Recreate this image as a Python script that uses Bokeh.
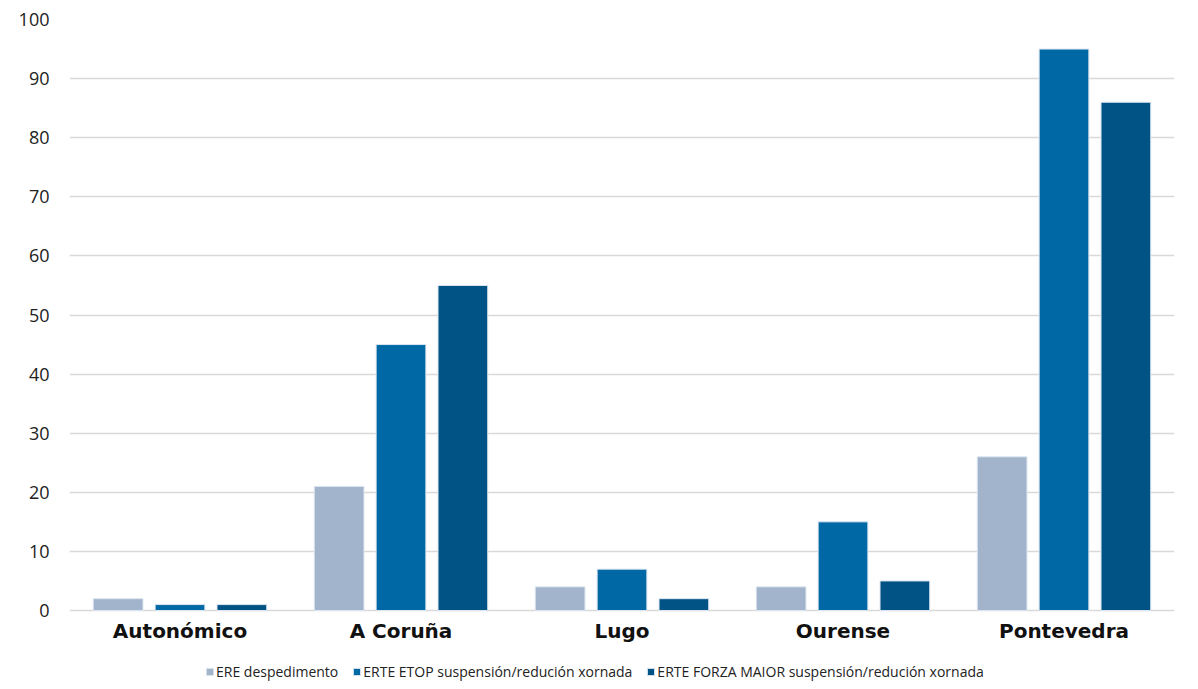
from bokeh.plotting import figure
from bokeh.models import ColumnDataSource, Range1d, FactorRange, Legend, LegendItem
from bokeh.core.properties import value
from bokeh.transform import dodge
from bokeh.embed import file_html
from bokeh.resources import INLINE

categories = ["Autonómico", "A Coruña", "Lugo", "Ourense", "Pontevedra"]
ere = [2, 21, 4, 4, 26]
etop = [1, 45, 7, 15, 95]
forza = [1, 55, 2, 5, 86]
series_names = ["ERE despedimento", "ERTE ETOP suspensión/redución xornada",
                "ERTE FORZA MAIOR suspensión/redución xornada"]
colors = ["#a2b4cb", "#0068a5", "#025385"]
y_ticks = list(range(0, 101, 10))

src = ColumnDataSource(dict(cat=categories, ere=ere, etop=etop, forza=forza))

# frame spans 19..681 px; 0..100 spans 591 px, leaving 71 px below zero
y_low = -71 / 5.91

p = figure(x_range=FactorRange(*categories), y_range=Range1d(y_low, 100),
           width=1190, height=681, output_backend="svg", x_axis_location=None,
           toolbar_location=None, min_border_left=69, min_border_top=19,
           min_border_right=16, min_border_bottom=0)

renderers = []
for key, off, col in zip(["ere", "etop", "forza"], [-0.28, 0, 0.28], colors):
    r = p.vbar(x=dodge("cat", off, range=p.x_range), top=key, width=0.225,
               source=src, fill_color=col, line_color="#dce6f0", line_width=1)
    renderers.append(r)

p.text(x="cat", y=0, text="cat", source=src, y_offset=20,
       text_align="center", text_baseline="middle",
       text_font=value("DejaVu Sans"), text_font_style="bold",
       text_font_size="20px", text_color="#111111")

p.outline_line_color = None
p.xgrid.grid_line_color = None
p.ygrid.grid_line_color = "#d9d9d9"
p.ygrid.grid_line_width = 1.5
p.yaxis.ticker = y_ticks
p.yaxis.axis_line_color = None
p.yaxis.major_tick_line_color = None
p.yaxis.minor_tick_line_color = None
p.yaxis.major_label_text_font = "Open Sans"
p.yaxis.major_label_text_font_size = "18px"
p.yaxis.major_label_text_color = "#222222"
p.yaxis.major_label_standoff = 14

legend = Legend(items=[LegendItem(label=n, renderers=[r]) for n, r in zip(series_names, renderers)],
                orientation="horizontal", location=(136, 0))
legend.label_text_font = "Open Sans"
legend.label_text_font_size = "14px"
legend.label_text_color = "#222222"
legend.glyph_width = 9
legend.glyph_height = 9
legend.label_standoff = 2
legend.spacing = 14
legend.border_line_color = None
legend.background_fill_alpha = 0
legend.margin = 0
legend.padding = 1
legend.label_height = 16
p.add_layout(legend, "center")

open("out.html", "w").write(file_html(p, INLINE))
